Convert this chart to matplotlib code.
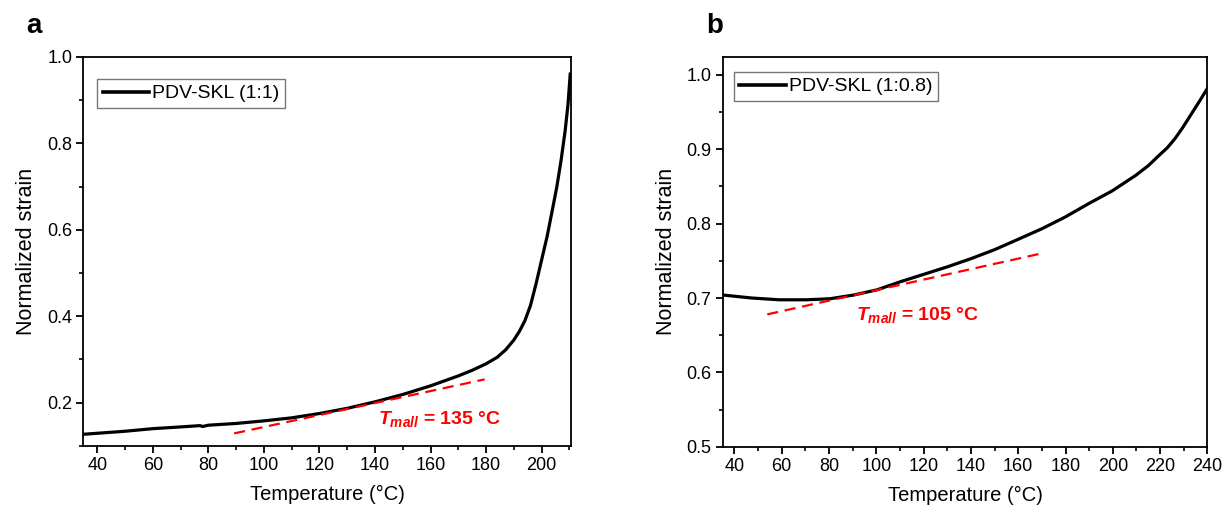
import numpy as np
import matplotlib
matplotlib.use("Agg")
import matplotlib.pyplot as plt
from matplotlib.ticker import MultipleLocator

plt.rcParams['font.family'] = ['Liberation Sans', 'DejaVu Sans']
plt.rcParams['mathtext.fontset'] = 'custom'
plt.rcParams['mathtext.it'] = 'Liberation Sans:italic:bold'
plt.rcParams['mathtext.rm'] = 'Liberation Sans:bold'

# ── data ─────────────────────────────────────────────────────────────────────
temp_a = [35, 50, 60, 70, 77, 78, 80, 90, 100, 110, 120, 130, 140, 150, 160,
          170, 175, 180, 184, 187, 190, 192, 194, 196, 198, 200, 202, 204,
          205.5, 207, 208.5, 209.5, 210.3]
strain_a = [0.127, 0.134, 0.140, 0.144, 0.147, 0.145, 0.148, 0.152, 0.158,
            0.165, 0.175, 0.187, 0.202, 0.219, 0.239, 0.262, 0.275, 0.290,
            0.305, 0.322, 0.345, 0.365, 0.390, 0.425, 0.475, 0.530, 0.585,
            0.650, 0.700, 0.760, 0.830, 0.890, 0.960]
tan_a_x = [89.3, 179.5]
tan_a_y = [0.129, 0.254]
label_a = "PDV-SKL (1:1)"
tmall_a = 135

temp_b = [35.2, 47.3, 58.9, 70.5, 80.4, 90.4, 100.3, 110.3, 120.2, 130.1,
          140.1, 150, 160, 169.9, 179.9, 189.8, 199.7, 209.7, 215, 219.6,
          223, 226.2, 229.5, 232.9, 236.5, 240]
strain_b = [0.704, 0.700, 0.6976, 0.6976, 0.699, 0.704, 0.711, 0.722, 0.732,
            0.742, 0.753, 0.765, 0.779, 0.793, 0.809, 0.827, 0.844, 0.865,
            0.878, 0.892, 0.902, 0.914, 0.929, 0.946, 0.964, 0.982]
tan_b_x = [53.9, 169.9]
tan_b_y = [0.678, 0.760]
label_b = "PDV-SKL (1:0.8)"
tmall_b = 105

fig = plt.figure(figsize=(12.22, 5.12), dpi=100)
ax_a = fig.add_axes([0.0682, 0.129, 0.3991, 0.760])
ax_b = fig.add_axes([0.5913, 0.1275, 0.3968, 0.761])


def style(ax):
    for s in ax.spines.values():
        s.set_linewidth(1.3)
    ax.tick_params(which='major', direction='out', length=5, width=1.3,
                   labelsize=13, pad=3, top=False, right=False)
    ax.tick_params(which='minor', direction='out', length=2.8, width=1.2,
                   top=False, right=False)
    ax.set_xlabel("Temperature (°C)", fontsize=14.5, labelpad=8)
    ax.set_ylabel("Normalized strain", fontsize=15.5, labelpad=7)


def add_legend(ax, anchor):
    leg = ax.legend(loc='upper left', bbox_to_anchor=anchor,
                    borderaxespad=0, fancybox=False, edgecolor='#555555',
                    fontsize=14, handlelength=2.4, handletextpad=0.15,
                    borderpad=0.3)
    leg.get_frame().set_linewidth(1.0)
    leg.get_lines()[0].set_linewidth(2.6)


# ── panel a ──────────────────────────────────────────────────────────────────
ax_a.plot(temp_a, strain_a, color='black', lw=2.3, label=label_a)
ax_a.plot(tan_a_x, tan_a_y, color='red', lw=1.6, ls=(0, (5, 3)))
ax_a.set_xlim(35, 210.6)
ax_a.set_ylim(0.1, 1.0)
ax_a.xaxis.set_major_locator(MultipleLocator(20))
ax_a.xaxis.set_minor_locator(MultipleLocator(10))
ax_a.yaxis.set_major_locator(MultipleLocator(0.2))
ax_a.yaxis.set_minor_locator(MultipleLocator(0.1))
style(ax_a)
ax_a.text(141.0, 0.162, r"$T_{mall}$" + f" = {tmall_a} °C", color='red',
          fontsize=14, fontweight='bold', va='center')
add_legend(ax_a, (0.028, 0.943))

# ── panel b ──────────────────────────────────────────────────────────────────
ax_b.plot(temp_b, strain_b, color='black', lw=2.3, label=label_b)
ax_b.plot(tan_b_x, tan_b_y, color='red', lw=1.6, ls=(0, (5, 3)))
ax_b.set_xlim(35, 240)
ax_b.set_ylim(0.5, 1.024)
ax_b.xaxis.set_major_locator(MultipleLocator(20))
ax_b.xaxis.set_minor_locator(MultipleLocator(10))
ax_b.yaxis.set_major_locator(MultipleLocator(0.1))
ax_b.yaxis.set_minor_locator(MultipleLocator(0.05))
style(ax_b)
ax_b.text(91.5, 0.677, r"$T_{mall}$" + f" = {tmall_b} °C", color='red',
          fontsize=14, fontweight='bold', va='center')
add_legend(ax_b, (0.0227, 0.962))

fig.text(26 / 1222, 1 - 33 / 512, "a", fontsize=20, fontweight='bold',
         va='baseline')
fig.text(706 / 1222, 1 - 33 / 512, "b", fontsize=20, fontweight='bold',
         va='baseline')

fig.savefig("out.png", dpi=100)
